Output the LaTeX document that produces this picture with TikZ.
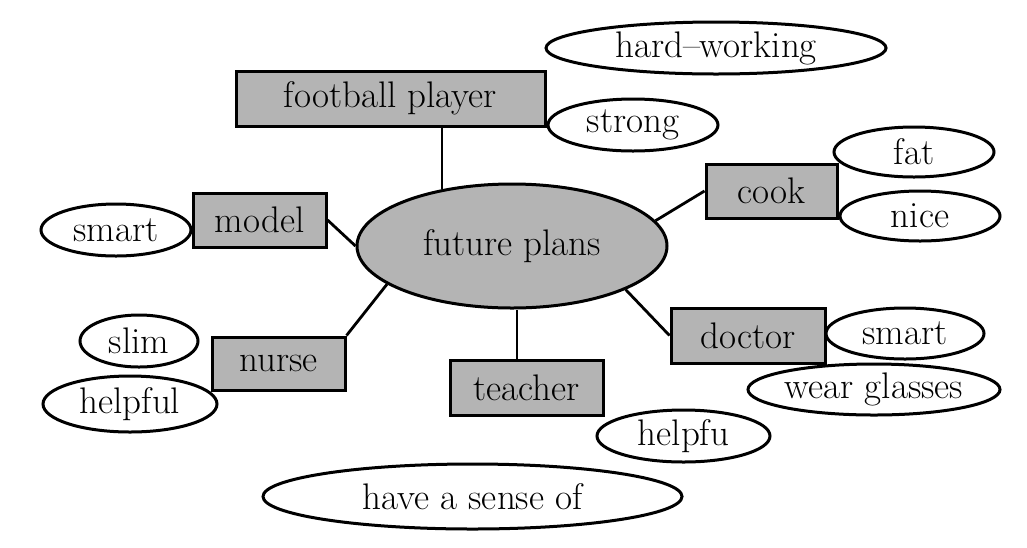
\documentclass[tikz,border=0pt]{standalone}
\usetikzlibrary{shapes.geometric}
\definecolor{boxgray}{HTML}{B4B4B4}
\begin{document}
\begin{tikzpicture}[x=1pt,y=-1pt,
  txt/.style={font=\fontsize{37}{42}\selectfont},
  job/.style={txt,draw=black,line width=3pt,fill=boxgray,rectangle,inner sep=0pt},
  trait/.style={txt,draw=black,line width=3pt,fill=white,ellipse,inner sep=0pt},
  link/.style={line width=2.8pt}]
\useasboundingbox (0,0) rectangle (1027,547);
% centre
\node[trait,fill=boxgray,minimum width=310pt,minimum height=124pt] (fut) at (512,246) {future plans};
% jobs
\node[job,minimum width=309pt,minimum height=55pt] (fp) at (390.5,98.5) {football player};
\node[job,minimum width=133pt,minimum height=54pt] (model) at (259.5,220) {model};
\node[job,minimum width=131pt,minimum height=54pt] (cook) at (771.5,191) {cook};
\node[job,minimum width=133pt,minimum height=53pt] (nurse) at (278.5,363.5) {nurse};
\node[job,minimum width=153pt,minimum height=55pt] (teacher) at (526.5,387.5) {teacher};
\node[job,minimum width=154pt,minimum height=55pt] (doctor) at (748,335.5) {doctor};
% traits
\node[trait,minimum width=340pt,minimum height=52pt] (hw) at (716,48) {hard--working};
\node[trait,minimum width=170pt,minimum height=52pt] (strong) at (633,125) {strong};
\node[trait,minimum width=160pt,minimum height=50pt] (fat) at (914,152) {fat};
\node[trait,minimum width=160pt,minimum height=50pt] (nice) at (920,216) {nice};
\node[trait,minimum width=150pt,minimum height=52pt] (smartA) at (116,230) {smart};
\node[trait,minimum width=118pt,minimum height=52pt] (slim) at (139,341) {slim};
\node[trait,minimum width=174pt,minimum height=56pt] (helpfulA) at (130,404) {helpful};
\node[trait,minimum width=158pt,minimum height=51pt] (smartB) at (905,333.5) {smart};
\node[trait,minimum width=252pt,minimum height=51pt] (wg) at (874,389.5) {wear glasses};
\node[trait,minimum width=173pt,minimum height=52pt] (helpfu) at (683.5,436) {helpfu};
\node[trait,minimum width=419pt,minimum height=65pt] (sense) at (472.5,496.5) {have a sense of};
% connectors
\draw[link] (fp.south -| fut.141.8) -- (fut.141.8);
\draw[link] (model.east) -- (fut.west);
\draw[link] (cook.west) -- (fut.10);
\draw[link] (nurse.north east) -- (fut.197);
\draw[link] ([xshift=-9.5pt]teacher.north) -- ([xshift=-9.5pt]teacher.north |- fut.south);
\draw[link] (doctor.west) -- (fut.-21);
\end{tikzpicture}
\end{document}
